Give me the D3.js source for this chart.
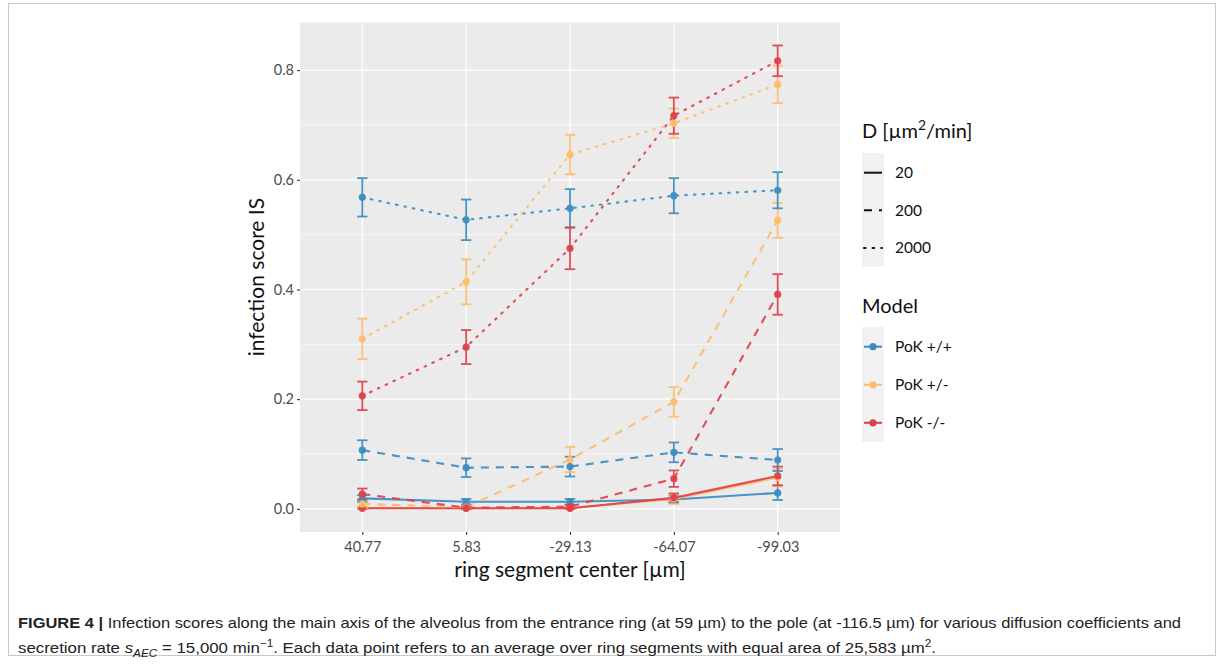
<!DOCTYPE html>
<html>
<head>
<meta charset="utf-8">
<script src="https://cdn.jsdelivr.net/npm/d3@7"></script>
<style>
  html, body { margin: 0; padding: 0; background: #fff; }
  svg { display: block; }
</style>
</head>
<body>
<svg id="chart" width="1224" height="664"></svg>
<script>
// ---------------- DATA ----------------
const categories = ["40.77", "5.83", "-29.13", "-64.07", "-99.03"];
const models = ["PoK +/+", "PoK +/-", "PoK -/-"];
const diffusions = ["20", "200", "2000"];
const yTicks = [0.0, 0.2, 0.4, 0.6, 0.8];

// means and error half-widths, per model and diffusion coefficient
const pp_20 = [0.019, 0.013, 0.013, 0.017, 0.029];
const pp_20_err = [0.006, 0.005, 0.005, 0.007, 0.013];
const pm_20 = [0.002, 0.001, 0.001, 0.018, 0.057];
const pm_20_err = [0.002, 0.001, 0.001, 0.008, 0.016];
const mm_20 = [0.001, 0.001, 0.001, 0.020, 0.060];
const mm_20_err = [0.001, 0.001, 0.001, 0.008, 0.017];

const pp_200 = [0.107, 0.075, 0.077, 0.103, 0.089];
const pp_200_err = [0.018, 0.017, 0.018, 0.018, 0.020];
const pm_200 = [0.009, 0.003, 0.090, 0.195, 0.526];
const pm_200_err = [0.007, 0.002, 0.023, 0.027, 0.032];
const mm_200 = [0.027, 0.002, 0.004, 0.055, 0.391];
const mm_200_err = [0.010, 0.002, 0.003, 0.015, 0.037];

const pp_2000 = [0.568, 0.527, 0.548, 0.571, 0.581];
const pp_2000_err = [0.035, 0.037, 0.035, 0.032, 0.033];
const pm_2000 = [0.310, 0.414, 0.646, 0.703, 0.774];
const pm_2000_err = [0.037, 0.041, 0.036, 0.027, 0.034];
const mm_2000 = [0.206, 0.295, 0.475, 0.717, 0.817];
const mm_2000_err = [0.026, 0.031, 0.038, 0.033, 0.028];

const modelColors = ["#3b8dc0", "#fdbd6c", "#de404b"];
const dashes = { "20": null, "200": "8,7", "2000": "1.6,7" };

// build series table
const seriesTable = [
  { model: 0, d: "20", values: pp_20, err: pp_20_err },
  { model: 1, d: "20", values: pm_20, err: pm_20_err },
  { model: 2, d: "20", values: mm_20, err: mm_20_err },
  { model: 0, d: "200", values: pp_200, err: pp_200_err },
  { model: 1, d: "200", values: pm_200, err: pm_200_err },
  { model: 2, d: "200", values: mm_200, err: mm_200_err },
  { model: 0, d: "2000", values: pp_2000, err: pp_2000_err },
  { model: 1, d: "2000", values: pm_2000, err: pm_2000_err },
  { model: 2, d: "2000", values: mm_2000, err: mm_2000_err }
];

// ---------------- LAYOUT ----------------
const svg = d3.select("#chart");
const font = "Lato, 'Noto Sans', sans-serif";
const panel = { left: 300, right: 840, top: 22.3, bottom: 532 };

// frame around figure + caption
svg.append("rect")
  .attr("x", 8.5).attr("y", 3.5).attr("width", 1207).attr("height", 652)
  .attr("fill", "none").attr("stroke", "#c8c8c8").attr("stroke-width", 1);

const x = d3.scalePoint().domain(categories).range([panel.left, panel.right]).padding(0.6);

let lo = Infinity, hi = -Infinity;
seriesTable.forEach(s => s.values.forEach((v, i) => {
  lo = Math.min(lo, Math.max(0, v - s.err[i]));
  hi = Math.max(hi, v + s.err[i]);
}));
lo = 0;
const span = hi - lo;
const y = d3.scaleLinear().domain([lo - 0.05 * span, hi + 0.05 * span]).range([panel.bottom, panel.top]);

// panel background
svg.append("rect")
  .attr("x", panel.left).attr("y", panel.top)
  .attr("width", panel.right - panel.left).attr("height", panel.bottom - panel.top)
  .attr("fill", "#ebebeb");

const grid = svg.append("g");
const minorTicks = d3.range(0.1, 0.8, 0.2);
grid.selectAll(".minor").data(minorTicks).join("line")
  .attr("x1", panel.left).attr("x2", panel.right)
  .attr("y1", d => y(d)).attr("y2", d => y(d))
  .attr("stroke", "#fff").attr("stroke-width", 0.6);
grid.selectAll(".major").data(yTicks).join("line")
  .attr("x1", panel.left).attr("x2", panel.right)
  .attr("y1", d => y(d)).attr("y2", d => y(d))
  .attr("stroke", "#fff").attr("stroke-width", 1.2);
grid.selectAll(".vmajor").data(categories).join("line")
  .attr("x1", d => x(d)).attr("x2", d => x(d))
  .attr("y1", panel.top).attr("y2", panel.bottom)
  .attr("stroke", "#fff").attr("stroke-width", 1.2);

// axes
const yAxis = d3.axisLeft(y).tickValues(yTicks).tickFormat(d3.format(".1f")).tickSize(3).tickPadding(3);
const gy = svg.append("g").attr("transform", `translate(${panel.left},0)`).call(yAxis);
const xAxis = d3.axisBottom(x).tickSize(3).tickPadding(3);
const gx = svg.append("g").attr("transform", `translate(0,${panel.bottom})`).call(xAxis);
[gx, gy].forEach(g => {
  g.select(".domain").remove();
  g.selectAll(".tick line").attr("stroke", "#333").attr("stroke-width", 1.1);
  g.selectAll(".tick text").attr("fill", "#4d4d4d").style("font-family", font).style("font-size", "14.5px");
});
gx.selectAll(".tick text").attr("dy", "0.95em");

svg.append("text")
  .attr("transform", `translate(264,${(panel.top + panel.bottom) / 2}) rotate(-90)`)
  .attr("text-anchor", "middle")
  .style("font-family", font).style("font-size", "21px").attr("fill", "#111")
  .text("infection score IS");
svg.append("text")
  .attr("x", (panel.left + panel.right) / 2).attr("y", 577)
  .attr("text-anchor", "middle")
  .style("font-family", font).style("font-size", "21px").attr("fill", "#111")
  .text("ring segment center [µm]");

// series
const plot = svg.append("g");
const line = d3.line().x((d, i) => x(categories[i])).y(d => y(d));
seriesTable.forEach(s => {
  plot.append("path")
    .attr("d", line(s.values))
    .attr("fill", "none")
    .attr("stroke", modelColors[s.model])
    .attr("stroke-width", 2.1)
    .attr("stroke-linecap", s.d === "2000" ? "round" : "butt")
    .attr("stroke-dasharray", dashes[s.d])
    .attr("opacity", 0.92);
});
seriesTable.forEach(s => {
  const g = plot.append("g").attr("stroke", modelColors[s.model]).attr("stroke-width", 1.8).attr("opacity", 0.92);
  s.values.forEach((v, i) => {
    const cx = x(categories[i]);
    const y1 = y(v - s.err[i]), y2 = y(v + s.err[i]);
    g.append("line").attr("x1", cx).attr("x2", cx).attr("y1", y1).attr("y2", y2);
    g.append("line").attr("x1", cx - 5.2).attr("x2", cx + 5.2).attr("y1", y1).attr("y2", y1);
    g.append("line").attr("x1", cx - 5.2).attr("x2", cx + 5.2).attr("y1", y2).attr("y2", y2);
  });
});
seriesTable.forEach(s => {
  plot.append("g").selectAll("circle").data(s.values).join("circle")
    .attr("cx", (d, i) => x(categories[i]))
    .attr("cy", d => y(d))
    .attr("r", 3.6)
    .attr("fill", modelColors[s.model])
    .attr("opacity", 0.95);
});

// legends
const leg = svg.append("g");
const legX = 862;
const t1 = leg.append("text").attr("x", legX).attr("y", 138)
  .style("font-family", font).style("font-size", "20px").attr("fill", "#111");
t1.append("tspan").text("D [µm");
t1.append("tspan").attr("dy", -8).style("font-size", "14px").text("2");
t1.append("tspan").attr("dy", 8).text("/min]");

leg.append("rect").attr("x", legX).attr("y", 153).attr("width", 22).attr("height", 114).attr("fill", "#f2f2f2");
const dYs = [172.7, 210.3, 247.9];
diffusions.forEach((d, i) => {
  leg.append("line").attr("x1", legX + 2).attr("x2", legX + 20)
    .attr("y1", dYs[i]).attr("y2", dYs[i])
    .attr("stroke", "#111").attr("stroke-width", 2)
    .attr("stroke-linecap", d === "2000" ? "round" : "butt")
    .attr("stroke-dasharray", dashes[d]);
  leg.append("text").attr("x", 895).attr("y", dYs[i]).attr("dy", "0.35em")
    .style("font-family", font).style("font-size", "15.5px").attr("fill", "#111").text(d);
});

leg.append("text").attr("x", legX).attr("y", 313)
  .style("font-family", font).style("font-size", "20px").attr("fill", "#111").text("Model");
leg.append("rect").attr("x", legX).attr("y", 327).attr("width", 22).attr("height", 115).attr("fill", "#f2f2f2");
const mYs = [346.7, 384.8, 422.8];
models.forEach((m, i) => {
  leg.append("line").attr("x1", legX + 2).attr("x2", legX + 20)
    .attr("y1", mYs[i]).attr("y2", mYs[i])
    .attr("stroke", modelColors[i]).attr("stroke-width", 2);
  leg.append("circle").attr("cx", legX + 11).attr("cy", mYs[i]).attr("r", 3.6).attr("fill", modelColors[i]);
  leg.append("text").attr("x", 895).attr("y", mYs[i]).attr("dy", "0.35em")
    .style("font-family", font).style("font-size", "15.5px").attr("fill", "#111").text(m);
});

// caption
const capFont = "'Liberation Sans Narrow', 'Arial Narrow', 'Liberation Sans', sans-serif";
const c1 = svg.append("text").attr("x", 18).attr("y", 628)
  .style("font-family", capFont).style("font-size", "15px").attr("fill", "#222")
  .attr("textLength", 1163).attr("lengthAdjust", "spacingAndGlyphs");
c1.append("tspan").style("font-weight", "bold").text("FIGURE 4 | ");
c1.append("tspan").text("Infection scores along the main axis of the alveolus from the entrance ring (at 59 µm) to the pole (at -116.5 µm) for various diffusion coefficients and");

const c2 = svg.append("text").attr("x", 18).attr("y", 653)
  .style("font-family", capFont).style("font-size", "15px").attr("fill", "#222")
  .attr("textLength", 918).attr("lengthAdjust", "spacingAndGlyphs");
c2.append("tspan").text("secretion rate ");
c2.append("tspan").style("font-style", "italic").text("s");
c2.append("tspan").attr("dy", 4).style("font-size", "10.5px").style("font-style", "italic").text("AEC");
c2.append("tspan").attr("dy", -4).text(" = 15,000  min");
c2.append("tspan").attr("dy", -6).style("font-size", "10.5px").text("−1");
c2.append("tspan").attr("dy", 6).text(". Each data point refers to an average over ring segments with equal area of 25,583 µm");
c2.append("tspan").attr("dy", -6).style("font-size", "10.5px").text("2");
c2.append("tspan").attr("dy", 6).text(".");
</script>
</body>
</html>
